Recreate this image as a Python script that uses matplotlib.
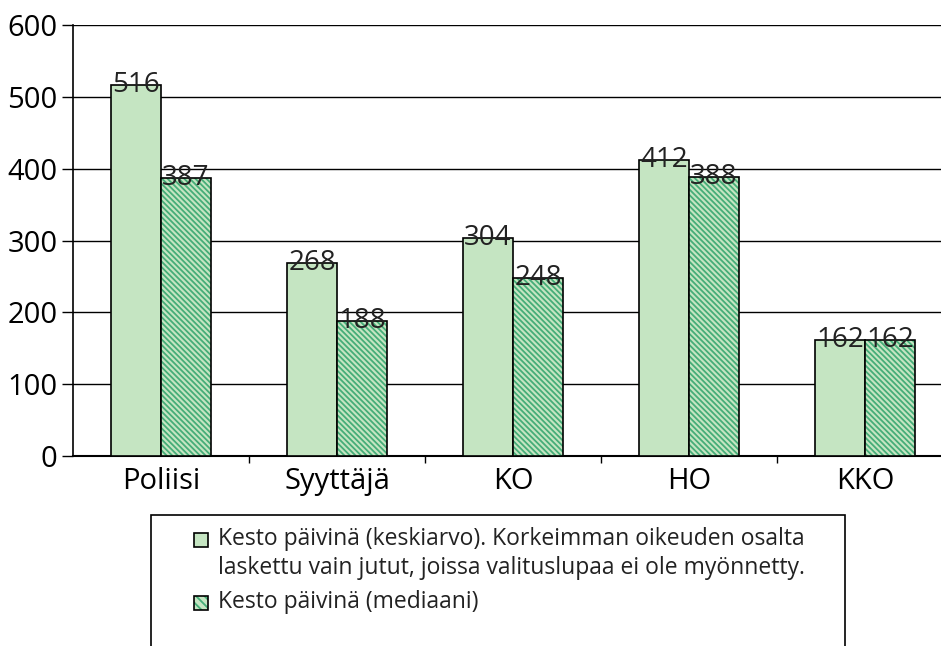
import matplotlib.pyplot as plt
import matplotlib.patches as mpatches
import numpy as np

# data
categories = ["Poliisi", "Syyttäjä", "KO", "HO", "KKO"]
mean_days = [516, 268, 304, 412, 162]
median_days = [387, 188, 248, 388, 162]
legend_labels = [
    "Kesto päivinä (keskiarvo). Korkeimman oikeuden osalta\nlaskettu vain jutut, joissa valituslupaa ei ole myönnetty.",
    "Kesto päivinä (mediaani)",
]

plt.rcParams["font.family"] = ["Open Sans", "DejaVu Sans"]
plt.rcParams["hatch.linewidth"] = 1.3

fill = "#c5e5c2"
stripe = "#45ad78"
hatch = "\\" * 6

W, H = 941, 646
fig = plt.figure(figsize=(W / 100, H / 100), dpi=100)
ax = fig.add_axes([73 / W, 1 - 456 / H, 880 / W, 431 / H])

x = np.arange(len(categories))
w = 0.284
b1 = ax.bar(x - w / 2, mean_days, w, color=fill, edgecolor="black", linewidth=1.2, zorder=3)
# hatched series: stripes first (hatch takes the edge colour), then black outline on top
ax.bar(x + w / 2, median_days, w, color=fill, edgecolor=stripe, linewidth=0,
       hatch=hatch, zorder=3)
b2 = ax.bar(x + w / 2, median_days, w, fill=False, edgecolor="black", linewidth=1.2, zorder=3)

for bars, vals in ((b1, mean_days), (b2, median_days)):
    for r, v in zip(bars, vals):
        ax.text(r.get_x() + r.get_width() / 2, v, str(v), ha="center", va="center",
                fontsize=20, color="#222222", zorder=4)

ax.set_xlim(-0.5, len(categories) - 0.5)
ax.set_ylim(0, 600)
ax.set_yticks(range(0, 601, 100))
ax.yaxis.grid(True, color="black", linewidth=1)
ax.set_axisbelow(True)
ax.set_xticks(x)
ax.set_xticklabels(categories)
ax.set_xticks(np.arange(0.5, len(categories) - 0.5, 1), minor=True)
ax.tick_params(axis="x", which="major", length=0, pad=8, labelsize=21)
ax.tick_params(axis="x", which="minor", length=5, width=1, direction="out")
ax.tick_params(axis="y", length=8, width=1, labelsize=21, pad=3)
for s in ("top", "right"):
    ax.spines[s].set_visible(False)
ax.spines["left"].set_linewidth(1.2)
ax.spines["bottom"].set_linewidth(1.5)

# legend box (runs off the bottom of the figure), entries drawn by hand so the
# swatch sits on the first text line like in the original
box = mpatches.Rectangle((151 / W, -0.05), 694 / W, 1 - 515 / H + 0.05,
                         transform=fig.transFigure, facecolor="white",
                         edgecolor="black", linewidth=1.2, zorder=-1)
fig.patches.append(box)

sw = 14
rows = [540, 603]  # pixel centre of the first line of each entry
for i, (label, yc) in enumerate(zip(legend_labels, rows)):
    x0, y0 = 194 / W, 1 - (yc + sw / 2) / H
    if i == 0:
        fig.patches.append(mpatches.Rectangle((x0, y0), sw / W, sw / H, transform=fig.transFigure,
                                              facecolor=fill, edgecolor="black", linewidth=1.2))
    else:
        fig.patches.append(mpatches.Rectangle((x0, y0), sw / W, sw / H, transform=fig.transFigure,
                                              facecolor=fill, edgecolor=stripe, linewidth=0,
                                              hatch="\\" * 4))
        fig.patches.append(mpatches.Rectangle((x0, y0), sw / W, sw / H, transform=fig.transFigure,
                                              fill=False, edgecolor="black", linewidth=1.2))
    fig.text(218 / W, 1 - (yc - 13) / H, label, ha="left", va="top",
             fontsize=16.5, linespacing=1.25, color="#222222")

fig.savefig("out.png", dpi=100)
